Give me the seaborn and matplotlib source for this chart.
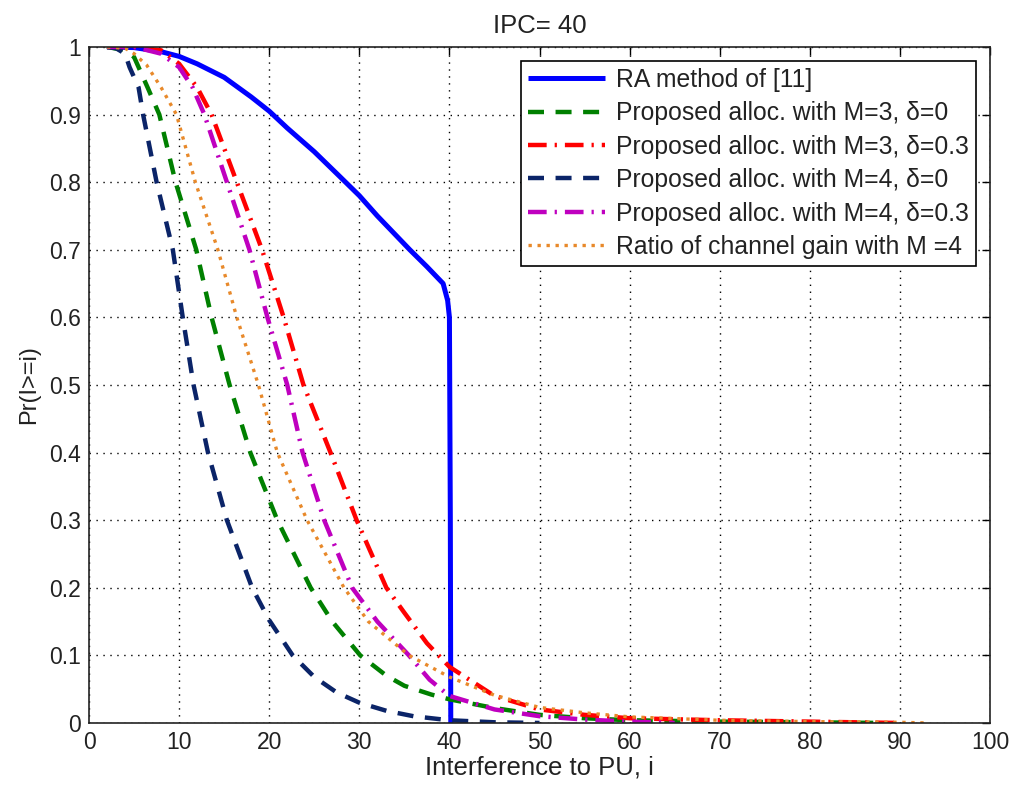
import matplotlib
matplotlib.use("Agg")
import matplotlib.pyplot as plt
import numpy as np
import pandas as pd
import seaborn as sns

# ------------------------------------------------------------------ #
# Data                                #
# ------------------------------------------------------------------ #
ra_x = [2, 5, 8, 10, 12, 15, 18, 20, 22, 25, 27.7, 30, 32, 35.6, 37.5, 39.3, 39.8, 40.0, 40.1, 40.15]
ra_y = [1, 0.999, 0.993, 0.986, 0.975, 0.955, 0.926, 0.905, 0.88, 0.845, 0.81, 0.78, 0.75, 0.70, 0.675, 0.65, 0.625, 0.60, 0.3, 0.0]

m3d0_x = [2, 4, 5, 5.5, 6.5, 7.8, 9.6, 11.9, 13.6, 15.6, 17.9, 20.9, 24.6, 27, 30.1, 33, 35, 38, 40, 45, 50, 55, 60, 70, 80, 88]
m3d0_y = [1, 0.995, 0.985, 0.97, 0.94, 0.9, 0.8, 0.7, 0.6, 0.5, 0.4, 0.3, 0.2, 0.15, 0.1, 0.07, 0.055, 0.042, 0.035, 0.022, 0.012, 0.007, 0.004, 0.002, 0.001, 0]

m3d3_x = [2, 5, 8, 10, 12, 13.6, 16.4, 19.2, 21.6, 23.8, 26.8, 29.7, 33.0, 35, 37.5, 40, 45, 50, 55, 60, 70, 80, 90]
m3d3_y = [1, 1, 0.995, 0.975, 0.94, 0.9, 0.8, 0.7, 0.6, 0.5, 0.4, 0.3, 0.2, 0.163, 0.118, 0.083, 0.04, 0.02, 0.012, 0.007, 0.004, 0.002, 0.0]

m4d0_x = [2, 3, 4, 4.5, 5.5, 6, 7.5, 9.3, 10.4, 11.6, 13.2, 15.3, 18.1, 20, 22.6, 25, 27.5, 30, 33, 36, 40, 45, 50]
m4d0_y = [1, 0.998, 0.99, 0.97, 0.94, 0.9, 0.8, 0.7, 0.6, 0.5, 0.4, 0.3, 0.2, 0.152, 0.1, 0.068, 0.045, 0.03, 0.018, 0.01, 0.004, 0.001, 0]

m4d3_x = [2, 5, 8, 10, 11.5, 12.8, 15.3, 17.8, 19.8, 22.0, 23.7, 26.1, 29.2, 32, 35.5, 37.8, 40, 45, 50, 55, 60, 65]
m4d3_y = [1, 1, 0.99, 0.97, 0.94, 0.9, 0.8, 0.7, 0.6, 0.5, 0.4, 0.3, 0.2, 0.15, 0.1, 0.064, 0.04, 0.02, 0.01, 0.005, 0.002, 0]

gain_x = [2, 4, 5, 6.4, 8, 9.7, 11.8, 14.3, 16.4, 18.8, 20.9, 24.2, 28.3, 31, 35.5, 40, 45, 50, 55, 60, 70, 80, 90, 93]
gain_y = [1, 0.998, 0.99, 0.973, 0.94, 0.9, 0.8, 0.7, 0.6, 0.5, 0.4, 0.3, 0.2, 0.15, 0.1, 0.068, 0.041, 0.023, 0.015, 0.009, 0.004, 0.002, 0.001, 0]

x_ticks = list(range(0, 101, 10))
y_ticks = [0, 0.1, 0.2, 0.3, 0.4, 0.5, 0.6, 0.7, 0.8, 0.9, 1]
y_tick_labels = ["0", "0.1", "0.2", "0.3", "0.4", "0.5", "0.6", "0.7", "0.8", "0.9", "1"]

SERIES = [
    # label, x, y, color, linewidth, dash pattern (None = solid)
    ("RA method of [11]", ra_x, ra_y, "#0000FF", 3.6, None),
    ("Proposed alloc. with M=3, δ=0", m3d0_x, m3d0_y, "#008000", 3.2, (3.6, 2.6)),
    ("Proposed alloc. with M=3, δ=0.3", m3d3_x, m3d3_y, "#FF0000", 3.2, (4.2, 1.8, 0.5, 1.8)),
    ("Proposed alloc. with M=4, δ=0", m4d0_x, m4d0_y, "#0B2468", 3.2, (3.6, 2.6)),
    ("Proposed alloc. with M=4, δ=0.3", m4d3_x, m4d3_y, "#BF00BF", 3.2, (4.2, 1.8, 0.5, 1.8)),
    ("Ratio of channel gain with M =4", gain_x, gain_y, "#E8892A", 2.4, (1.0, 1.7)),
]

# ------------------------------------------------------------------ #
# Plot                                                                 #
# ------------------------------------------------------------------ #
sns.set_theme(style="white")
plt.rcParams["font.family"] = ["Liberation Sans", "DejaVu Sans"]
plt.rcParams.update({
    "xtick.direction": "in",
    "ytick.direction": "in",
    "xtick.top": True,
    "ytick.right": True,
    "xtick.major.size": 6,
    "ytick.major.size": 6,
    "xtick.major.width": 1.0,
    "ytick.major.width": 1.0,
    "xtick.color": "black",
    "ytick.color": "black",
})

fig = plt.figure(figsize=(10.13, 7.86), dpi=100)
ax = fig.add_axes([0.0879, 0.0802, 0.8894, 0.8601])

for label, xs, ys, color, lw, dash in SERIES:
    df = pd.DataFrame({"x": xs, "y": ys})
    sns.lineplot(data=df, x="x", y="y", ax=ax, sort=False, estimator=None,
                 color=color, linewidth=lw, label=label)
    line = ax.get_lines()[-1]
    if dash is not None:
        line.set_dashes(dash)
    line.set_solid_capstyle("butt")
    line.set_dash_capstyle("butt")

ax.set_xlim(0, 100)
ax.set_ylim(0, 1)
ax.set_xticks(x_ticks)
ax.set_yticks(y_ticks)
ax.set_yticklabels(y_tick_labels)
ax.tick_params(labelsize=16.5, colors="black", pad=6)
for tl in ax.get_xticklabels() + ax.get_yticklabels():
    tl.set_color("#222222")

ax.grid(True, color="black", linestyle=(0, (1, 4)), linewidth=1.0)
for spine in ax.spines.values():
    spine.set_color("#222222")
    spine.set_linewidth(1.2)

ax.set_xlabel("Interference to PU, i", fontsize=18.5, color="#222222", labelpad=1)
ax.set_ylabel("Pr(I>=i)", fontsize=17, color="#222222", labelpad=6)
ax.set_title("IPC= 40", fontsize=18.5, color="#222222", pad=10)

leg = ax.legend(loc="upper right", fontsize=17.8, frameon=True, fancybox=False,
                edgecolor="black", framealpha=1, handlelength=3.1,
                borderaxespad=0.55, labelspacing=0.38, borderpad=0.3, handletextpad=0.45)
leg.get_frame().set_linewidth(1.2)
for txt in leg.get_texts():
    txt.set_color("#222222")

fig.savefig("out.png", dpi=100)
